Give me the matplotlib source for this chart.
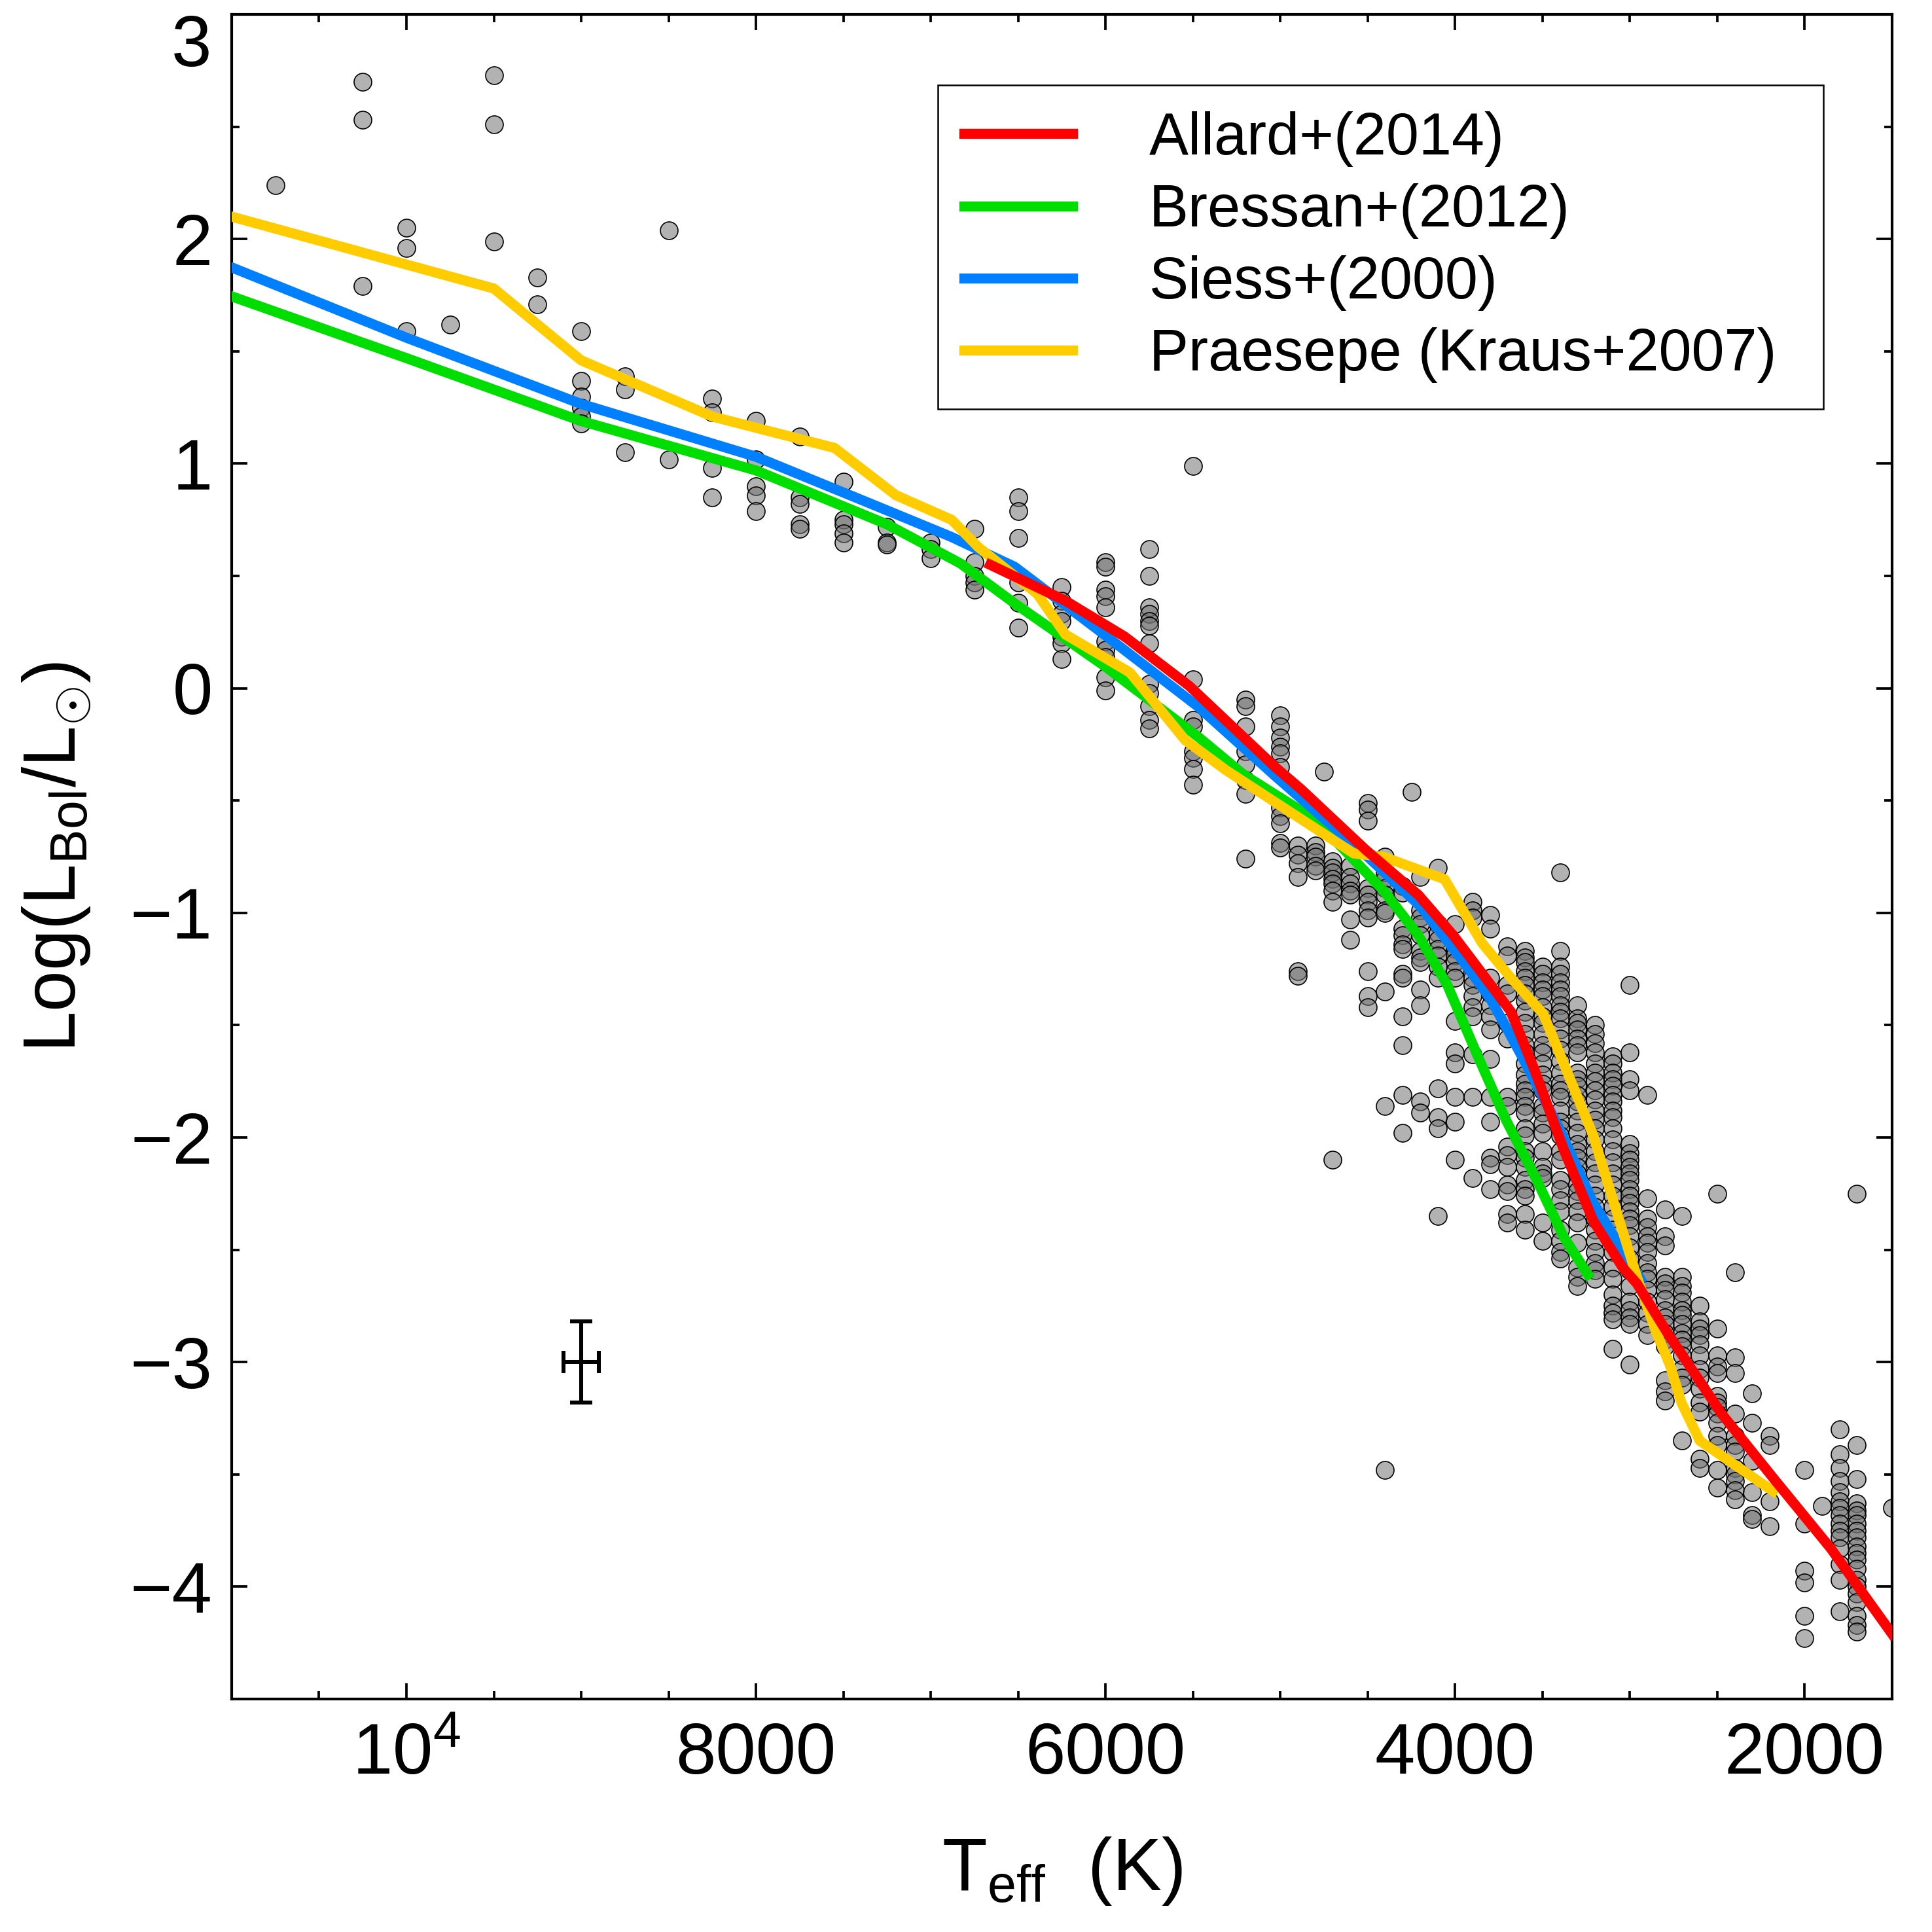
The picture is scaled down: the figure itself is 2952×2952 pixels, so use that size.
import numpy as np
import matplotlib
matplotlib.use("Agg")
import matplotlib.pyplot as plt
from matplotlib.ticker import MultipleLocator, FixedLocator
from matplotlib.lines import Line2D

plt.rcParams['font.family'] = ['Liberation Sans', 'DejaVu Sans']
plt.rcParams['mathtext.fontset'] = 'custom'
plt.rcParams['mathtext.rm'] = 'Liberation Sans'
plt.rcParams['mathtext.it'] = 'Liberation Sans:italic'
plt.rcParams['mathtext.bf'] = 'Liberation Sans:bold'

# observed stars, grouped by Teff column
teff_cols = [10750, 10250, 10000, 9750, 9500, 9250, 9000, 8750, 8500, 8250,
             8000, 7750, 7500, 7250, 7000, 6750, 6500, 6250, 6000, 5750,
             5500, 5200, 5000, 4900, 4800, 4750, 4700, 4600, 4500, 4400,
             4300, 4250, 4200, 4100, 4000, 3900, 3800, 3700, 3600, 3500,
             3400, 3300, 3200, 3100, 3000, 2900, 2800, 2700, 2600, 2500,
             2400, 2300, 2200, 2000, 1900, 1800, 1700, 1500]
logl_cols = [
    [2.24],
    [2.70, 2.53, 1.79],
    [2.05, 1.96, 1.59],
    [1.62],
    [2.73, 2.51, 1.99],
    [1.83, 1.71],
    [1.59, 1.37, 1.30, 1.25, 1.21, 1.18],
    [1.39, 1.33, 1.05],
    [2.04, 1.02],
    [1.29, 1.23, 0.98, 0.85],
    [1.19, 1.02, 0.90, 0.86, 0.79],
    [1.12, 0.85, 0.82, 0.73, 0.71],
    [0.92, 0.75, 0.73, 0.69, 0.65],
    [0.72, 0.65, 0.64],
    [0.65, 0.62, 0.58],
    [0.71, 0.56, 0.50, 0.47, 0.44],
    [0.85, 0.79, 0.67, 0.47, 0.38, 0.27],
    [0.45, 0.39, 0.33, 0.30, 0.23, 0.20, 0.13],
    [0.56, 0.54, 0.44, 0.41, 0.36, 0.21, 0.17, 0.14, 0.05, -0.01],
    [0.62, 0.50, 0.36, 0.33, 0.30, 0.28, 0.20, 0.02, -0.02, -0.08, -0.14, -0.18],
    [0.99, 0.04, -0.14, -0.17, -0.28, -0.31, -0.36, -0.43],
    [-0.05, -0.08, -0.17, -0.28, -0.34, -0.41, -0.47, -0.76],
    [-0.12, -0.17, -0.22, -0.26, -0.29, -0.35, -0.53, -0.57, -0.60, -0.69, -0.71],
    [-0.70, -0.74, -0.78, -0.84, -1.26, -1.28],
    [-0.70, -0.73, -0.75, -0.79, -0.81],
    [-0.37],
    [-0.77, -0.80, -0.82, -0.85, -0.87, -0.90, -0.95, -2.10],
    [-0.79, -0.84, -0.87, -0.90, -0.92, -1.03, -1.12],
    [-0.51, -0.54, -0.59, -0.89, -0.92, -0.95, -0.99, -1.02, -1.26, -1.37, -1.42],
    [-0.75, -0.82, -0.85, -0.89, -0.92, -0.99, -1.00, -1.35, -1.86, -3.48],
    [-0.88, -0.91, -1.07, -1.10, -1.14, -1.16, -1.27, -1.29, -1.46, -1.59, -1.81, -1.98],
    [-0.46],
    [-0.84, -0.99, -1.02, -1.05, -1.10, -1.17, -1.20, -1.22, -1.34, -1.41, -1.84, -1.89],
    [-0.80, -1.05, -1.09, -1.12, -1.16, -1.19, -1.24, -1.29, -1.78, -1.91, -1.96, -2.35],
    [-1.05, -1.16, -1.19, -1.22, -1.26, -1.29, -1.48, -1.62, -1.67, -1.82, -1.93, -2.10],
    [-0.95, -0.99, -1.02, -1.29, -1.32, -1.37, -1.42, -1.46, -1.63, -1.82, -2.18],
    [-1.01, -1.07, -1.29, -1.36, -1.41, -1.46, -1.52, -1.65, -1.82, -1.93, -2.09, -2.12, -2.23],
    [-1.15, -1.19, -1.32, -1.36, -1.49, -1.56, -1.82, -1.86, -2.04, -2.08, -2.13, -2.21,
     -2.24, -2.34, -2.38],
    [-1.17, -1.20, -1.22, -1.26, -1.29, -1.32, -1.36, -1.39, -1.44, -1.49, -1.54, -1.59,
     -1.62, -1.67, -1.72, -1.76, -1.79, -1.82, -1.86, -1.89, -1.96, -1.99, -2.06, -2.09,
     -2.13, -2.19, -2.23, -2.26, -2.34, -2.41],
    [-1.24, -1.27, -1.31, -1.34, -1.37, -1.42, -1.46, -1.49, -1.54, -1.59, -1.62, -1.67,
     -1.72, -1.76, -1.79, -1.86, -1.89, -1.94, -1.98, -2.06, -2.13, -2.16, -2.18, -2.38,
     -2.46],
    [-0.82, -1.17, -1.24, -1.27, -1.31, -1.34, -1.37, -1.41, -1.44, -1.47, -1.52, -1.56,
     -1.61, -1.66, -1.71, -1.76, -1.79, -1.82, -1.88, -1.93, -1.96, -1.99, -2.06, -2.10,
     -2.19, -2.23, -2.28, -2.33, -2.41, -2.46, -2.51, -2.54],
    [-1.41, -1.47, -1.49, -1.52, -1.56, -1.59, -1.62, -1.71, -1.74, -1.77, -1.81, -1.84,
     -1.88, -1.93, -1.98, -2.03, -2.06, -2.09, -2.13, -2.16, -2.21, -2.24, -2.28, -2.33,
     -2.38, -2.47, -2.58, -2.62, -2.66],
    [-1.50, -1.54, -1.58, -1.62, -1.67, -1.71, -1.75, -1.79, -1.83, -1.88, -1.92, -1.96,
     -2.01, -2.06, -2.11, -2.16, -2.21, -2.26, -2.31, -2.36, -2.41, -2.46, -2.51, -2.56,
     -2.59, -2.63],
    [-1.64, -1.67, -1.71, -1.74, -1.77, -1.81, -1.84, -1.88, -1.91, -1.96, -2.01, -2.06,
     -2.11, -2.16, -2.21, -2.26, -2.31, -2.36, -2.41, -2.46, -2.51, -2.58, -2.63, -2.70,
     -2.75, -2.78, -2.81, -2.94],
    [-1.32, -1.62, -1.74, -1.79, -2.03, -2.07, -2.10, -2.13, -2.16, -2.19, -2.23, -2.26,
     -2.29, -2.33, -2.36, -2.39, -2.44, -2.49, -2.54, -2.59, -2.66, -2.73, -2.77, -2.80,
     -2.83, -3.01],
    [-1.81, -2.27, -2.36, -2.40, -2.44, -2.47, -2.51, -2.56, -2.60, -2.63, -2.68, -2.73,
     -2.78, -2.83, -2.88],
    [-2.32, -2.44, -2.48, -2.62, -2.65, -2.68, -2.72, -2.77, -2.80, -2.83, -2.87, -2.90,
     -2.93, -3.08, -3.13, -3.17],
    [-2.35, -2.62, -2.66, -2.69, -2.73, -2.77, -2.79, -2.83, -2.87, -2.90, -2.93, -2.97,
     -3.03, -3.07, -3.10, -3.35],
    [-2.75, -2.82, -2.85, -2.88, -2.92, -2.97, -3.03, -3.07, -3.12, -3.18, -3.22, -3.43, -3.47],
    [-2.25, -2.85, -2.97, -3.02, -3.05, -3.15, -3.18, -3.20, -3.23, -3.27, -3.33, -3.37,
     -3.48, -3.56],
    [-2.60, -2.98, -3.05, -3.23, -3.33, -3.37, -3.40, -3.47, -3.50, -3.53, -3.57, -3.61],
    [-3.14, -3.27, -3.44, -3.58, -3.68, -3.70],
    [-3.33, -3.37, -3.62, -3.73],
    [-3.48, -3.72, -3.93, -3.98, -4.13, -4.23],
    [-3.64],
    [-3.30, -3.41, -3.47, -3.53, -3.58, -3.62, -3.65, -3.68, -3.72, -3.75, -3.78, -3.83,
     -3.90, -3.97, -4.11],
    [-2.25, -3.37, -3.52, -3.63, -3.66, -3.68, -3.72, -3.75, -3.78, -3.82, -3.85, -3.88,
     -3.92, -3.97, -4.00, -4.03, -4.07, -4.13, -4.17, -4.20],
    [-3.65],
]

# model isochrones and Praesepe sequence
allard_teff = [6660, 6230, 5890, 5520, 5030, 4880, 4510, 4210, 4010, 3845, 3680,
               3545, 3380, 3210, 3040, 2960, 2785, 2475, 2165, 1850, 1500]
allard_logl = [0.55, 0.39, 0.23, 0.01, -0.35, -0.45, -0.72, -0.92, -1.10, -1.27, -1.44,
               -1.70, -2.05, -2.37, -2.58, -2.65, -2.87, -3.23, -3.53, -3.83, -4.21]

bressan_teff = [11000, 10000, 9000, 8000, 7250, 6830, 6520, 6000, 5470, 5210, 4800,
                4410, 4210, 4045, 3880, 3710, 3545, 3380, 3240]
bressan_logl = [1.745, 1.47, 1.19, 0.97, 0.73, 0.556, 0.378, 0.096, -0.216, -0.384, -0.585,
                -0.90, -1.10, -1.32, -1.62, -1.92, -2.17, -2.44, -2.61]

siess_teff = [11000, 10000, 9000, 8000, 7300, 6885, 6520, 5990, 5470, 5030, 4500,
              4200, 3950, 3800, 3700, 3610, 3410, 3210, 2940]
siess_logl = [1.874, 1.561, 1.266, 1.031, 0.808, 0.675, 0.541, 0.229, -0.082, -0.39, -0.75,
              -0.97, -1.22, -1.38, -1.52, -1.65, -1.95, -2.29, -2.63]

praesepe_teff = [11000, 9500, 9000, 8250, 7550, 7200, 6880, 6730, 6390, 6230, 5860,
                 5545, 5310, 4580, 4410, 4060, 3845, 3680, 3495, 3210, 3060, 2960,
                 2850, 2770, 2705, 2600, 2180]
praesepe_logl = [2.10, 1.78, 1.46, 1.21, 1.07, 0.86, 0.75, 0.63, 0.42, 0.24, 0.07,
                 -0.23, -0.365, -0.735, -0.75, -0.85, -1.135, -1.29, -1.45, -1.99, -2.37, -2.62,
                 -2.865, -3.015, -3.18, -3.35, -3.575]

labels = ['Allard+(2014)', 'Bressan+(2012)', 'Siess+(2000)', 'Praesepe (Kraus+2007)']
colors = ['#ff0000', '#00dd00', '#0080ff', '#ffcc00']

# typical error bar
err_teff, err_logl = 9000, -3.0
err_dteff, err_dlogl = 100, 0.18

xmajor = [10000, 8000, 6000, 4000, 2000]
xmajor_labels = [r'$10^4$', '8000', '6000', '4000', '2000']


tx = np.concatenate([[t] * len(v) for t, v in zip(teff_cols, logl_cols)])
ly = np.concatenate([np.array(v, dtype=float) for v in logl_cols])

fig = plt.figure(figsize=(9.84, 9.84), dpi=300)
ax = fig.add_axes([0.1199, 0.1206, 0.8594, 0.8719])

ax.scatter(tx, ly, s=42, c=[(0.45, 0.45, 0.45, 0.55)], edgecolors='k',
           linewidths=0.4, zorder=2)

lw = 3.7
ax.plot(bressan_teff, bressan_logl, color=colors[1], lw=lw, zorder=3)
ax.plot(siess_teff, siess_logl, color=colors[2], lw=lw, zorder=4)
ax.plot(praesepe_teff, praesepe_logl, color=colors[3], lw=lw, zorder=5)
ax.plot(allard_teff, allard_logl, color=colors[0], lw=lw, zorder=6)

ax.errorbar(err_teff, err_logl, xerr=err_dteff, yerr=err_dlogl, fmt='none',
            ecolor='k', elinewidth=1.45, capsize=4, capthick=1.45, zorder=7)

ax.set_xlim(11000, 1500)
ax.set_ylim(-4.5, 3.0)

ax.xaxis.set_major_locator(FixedLocator(xmajor))
ax.set_xticklabels(xmajor_labels)
ax.xaxis.set_minor_locator(MultipleLocator(500))
ax.yaxis.set_minor_locator(MultipleLocator(0.5))
yt = np.arange(-4, 4)
ax.set_yticks(yt)
ax.set_yticklabels(['\u2212%d' % -v if v < 0 else ('' if v == 3 else '%d' % v) for v in yt])
ax.text(-0.012, 3.0, '3', transform=ax.get_yaxis_transform(), ha='right', va='top',
        fontsize=26.5)

ax.tick_params(which='both', direction='in', top=True, right=True, width=0.9,
               labelsize=26.5)
ax.tick_params(which='major', length=5.8)
ax.tick_params(which='minor', length=2.8)
ax.tick_params(axis='x', pad=8.5)
ax.tick_params(axis='y', pad=7)
for s in ax.spines.values():
    s.set_linewidth(1.0)

ax.set_xlabel(r'T$_{\rm eff}$  (K)', fontsize=27)
ax.xaxis.set_label_coords(0.5, -0.081)
ax.set_ylabel(r'Log(L$_{\rm Bol}$/L$_{\odot}$)', fontsize=27)
ax.yaxis.set_label_coords(-0.084, 0.5)

handles = [Line2D([], [], color=c, lw=lw) for c in colors]
leg = ax.legend(handles, labels, loc='upper left',
                bbox_to_anchor=(0.4253, 0.7704, 0.5333, 0.1876), mode='expand',
                fontsize=21.6, handlelength=1.85, handletextpad=1.3,
                borderpad=0.44, labelspacing=0.28, borderaxespad=0,
                fancybox=False, framealpha=1, edgecolor='k')
leg.get_frame().set_linewidth(0.6)

fig.savefig('out.png', dpi=300)
